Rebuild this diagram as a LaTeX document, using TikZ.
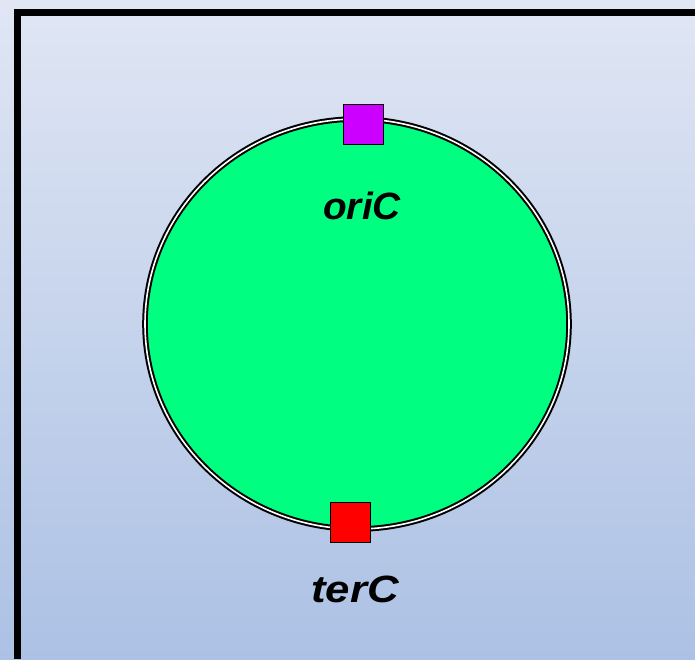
\documentclass[tikz,border=0pt]{standalone}
\usepackage{fontspec}
\setmainfont{Liberation Sans}
\definecolor{bgtop}{RGB}{224,230,244}
\definecolor{bgbot}{RGB}{172,193,228}
\definecolor{plasmid}{RGB}{0,255,128}
\definecolor{oribox}{RGB}{204,0,255}
\definecolor{terbox}{RGB}{255,0,0}
\tikzset{
  sitebox/.style={draw=black, line width=1pt, minimum width=40pt, minimum height=40pt, inner sep=0pt},
  sitelabel/.style={font=\fontsize{38}{40}\selectfont\bfseries\itshape, inner sep=0pt}
}
\begin{document}
\begin{tikzpicture}[x=1pt,y=-1pt]
\useasboundingbox (0,0) rectangle (695,659);
\shade[top color=bgtop, bottom color=bgbot] (0,0) rectangle (695,659);
\draw[line width=7pt, line cap=butt] (17.5,659) -- (17.5,12.5) -- (695,12.5);
\draw[fill=plasmid, draw=black, line width=2pt, double=white, double distance=1.6pt]
  (357,324) ellipse [x radius=212, y radius=205] ;
\node[sitebox, fill=oribox] (ori) at (363,124) {};
\node[sitebox, fill=terbox] (ter) at (350.5,522.5) {};
\node[sitelabel, xscale=1.02] (oriL) at (362,206) {oriC};
\node[sitelabel, xscale=1.15] (terL) at (355,589) {terC};
\end{tikzpicture}
\end{document}
